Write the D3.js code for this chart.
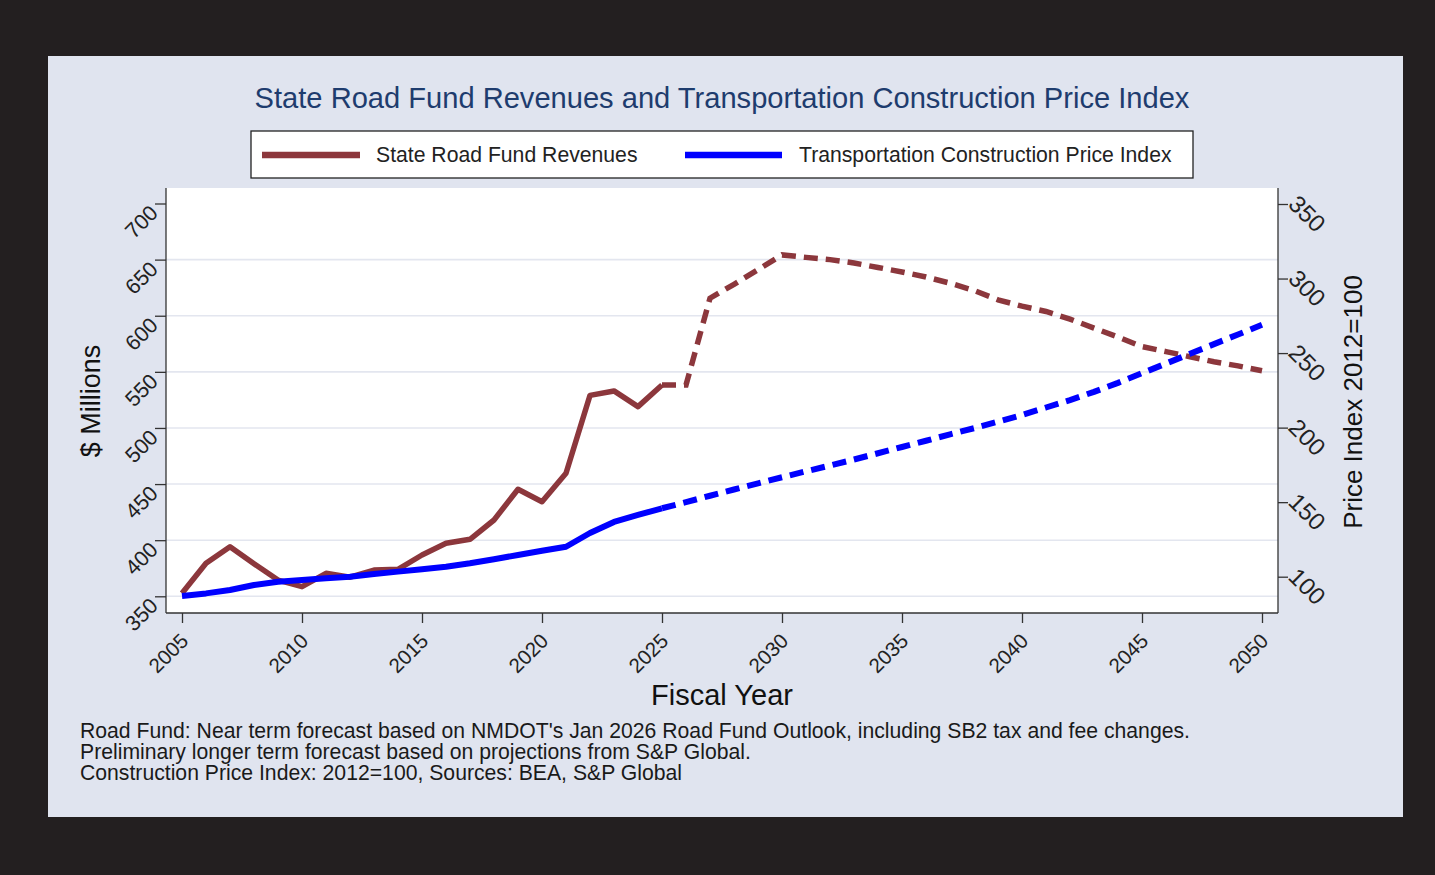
<!DOCTYPE html>
<html>
<head>
<meta charset="utf-8">
<title>State Road Fund Revenues and Transportation Construction Price Index</title>
<script src="https://cdnjs.cloudflare.com/ajax/libs/d3/7.8.5/d3.min.js"></script>
<style>
  html, body { margin: 0; padding: 0; background: #231f20; }
  svg { display: block; font-family: "Liberation Sans", Arial, Helvetica, sans-serif; }
  .axis path, .axis line { stroke: #333; stroke-width: 1.3; }
  .axis text { fill: #222; }
</style>
</head>
<body>
<div id="chart"></div>
<script>
// fiscal years
var years = [2005, 2006, 2007, 2008, 2009, 2010, 2011, 2012, 2013, 2014,
  2015, 2016, 2017, 2018, 2019, 2020, 2021, 2022, 2023, 2024,
  2025, 2026, 2027, 2028, 2029, 2030, 2031, 2032, 2033, 2034,
  2035, 2036, 2037, 2038, 2039, 2040, 2041, 2042, 2043, 2044,
  2045, 2046, 2047, 2048, 2049, 2050];

// state road fund revenues, $ millions (actual through 2025, forecast after)
var roadFund = [352.7, 379.4, 394.2, 379, 364.5, 358.6, 370.5, 367, 373.4, 374,
  386.8, 397.2, 400.8, 418, 445.4, 434.3, 459.6, 529, 533, 519,
  538.3, 538.3, 615.6, 628, 641, 654.2, 652, 650, 647, 643,
  639, 634.5, 629, 622.5, 614.2, 608.5, 603.8, 597, 589, 581,
  572.5, 568, 563.5, 559, 555.3, 551];

// transportation construction price index, 2012=100
var priceIndex = [87, 88.8, 91.1, 94.4, 96.6, 97.8, 98.9, 100, 101.8, 103.4,
  105, 106.7, 109, 111.7, 114.6, 117.4, 120.1, 129.3, 136.7, 141.4,
  145.9, 150, 154.3, 158.5, 162.6, 166.7, 170.7, 174.6, 178.6, 182.8,
  187, 191.2, 195.5, 199.6, 204, 208.5, 213.5, 218.5, 224, 230,
  236.5, 243, 249.5, 256, 262.5, 269];

var lastActual = 2025;

var xTicks = [2005, 2010, 2015, 2020, 2025, 2030, 2035, 2040, 2045, 2050];
var leftTicks = [350, 400, 450, 500, 550, 600, 650, 700];
var rightTicks = [100, 150, 200, 250, 300, 350];

var titleText = "State Road Fund Revenues and Transportation Construction Price Index";
var seriesNames = ["State Road Fund Revenues", "Transportation Construction Price Index"];
var notes = [
  "Road Fund: Near term forecast based on NMDOT's Jan 2026 Road Fund Outlook, including SB2 tax and fee changes.",
  "Preliminary longer term forecast based on projections from S&P Global.",
  "Construction Price Index: 2012=100, Sources: BEA, S&P Global"
];

var W = 1435, H = 875;
var red = "#8c373c", blue = "#0000ff";

// plot region
var plot = {left: 166, right: 1278, top: 188, bottom: 613};

var svg = d3.select("#chart").append("svg")
  .attr("width", W)
  .attr("height", H);

// outer dark frame + light panel
svg.append("rect").attr("width", W).attr("height", H).attr("fill", "#231f20");
svg.append("rect")
  .attr("x", 48).attr("y", 56)
  .attr("width", 1355).attr("height", 761)
  .attr("fill", "#e0e4ef");

svg.append("rect")
  .attr("x", plot.left).attr("y", plot.top)
  .attr("width", plot.right - plot.left).attr("height", plot.bottom - plot.top)
  .attr("fill", "#fff");

// scales
var x = d3.scaleLinear().domain([2005, 2050]).range([182, 1262]);
var yL = d3.scaleLinear().domain([350, 700]).range([596.3, 203.5]);
var yR = d3.scaleLinear().domain([100, 350]).range([576.7, 204]);

// gridlines (left axis, not at top tick)
svg.append("g").selectAll("line")
  .data(leftTicks.slice(0, -1))
  .enter().append("line")
    .attr("x1", plot.left).attr("x2", plot.right)
    .attr("y1", function(d) { return yL(d); })
    .attr("y2", function(d) { return yL(d); })
    .attr("stroke", "#e3e6ef")
    .attr("stroke-width", 1.6);

// axes
var gx = svg.append("g")
  .attr("class", "axis x")
  .attr("transform", "translate(0," + plot.bottom + ")")
  .call(d3.axisBottom(x).tickValues(xTicks).tickFormat(d3.format("d")).tickSize(10).tickSizeOuter(0));
gx.select(".domain").attr("d", "M" + plot.left + ",0H" + plot.right);
gx.selectAll("text")
  .attr("x", 0).attr("y", 0).attr("dy", "0.35em")
  .attr("font-size", 20.5)
  .attr("text-anchor", "end")
  .attr("transform", "translate(2,24) rotate(-45)");

var gl = svg.append("g")
  .attr("class", "axis yl")
  .attr("transform", "translate(" + plot.left + ",0)")
  .call(d3.axisLeft(yL).tickValues(leftTicks).tickSize(11).tickSizeOuter(0));
gl.select(".domain").attr("d", "M0," + plot.top + "V" + plot.bottom);
gl.selectAll("text")
  .attr("x", 0).attr("y", 0).attr("dy", "0.35em")
  .attr("font-size", 21.5)
  .attr("text-anchor", "end")
  .attr("transform", "translate(-12,5) rotate(-45)");

var gr = svg.append("g")
  .attr("class", "axis yr")
  .attr("transform", "translate(" + plot.right + ",0)")
  .call(d3.axisRight(yR).tickValues(rightTicks).tickSize(10).tickSizeOuter(0));
gr.select(".domain").attr("d", "M0," + plot.top + "V" + plot.bottom);
gr.selectAll("text")
  .attr("x", 0).attr("y", 0).attr("dy", "0.35em")
  .attr("font-size", 24)
  .attr("text-anchor", "start")
  .attr("transform", "translate(15,-5) rotate(45)");

// series lines: solid for actuals, dashed for forecast
function addSeries(values, yScale, color, width) {
  var pts = years.map(function(yr, i) { return {x: yr, y: values[i]}; });
  var line = d3.line()
    .x(function(d) { return x(d.x); })
    .y(function(d) { return yScale(d.y); });

  svg.append("path")
    .datum(pts.filter(function(d) { return d.x <= lastActual; }))
    .attr("fill", "none")
    .attr("stroke", color)
    .attr("stroke-width", width)
    .attr("stroke-linejoin", "round")
    .attr("d", line);

  svg.append("path")
    .datum(pts.filter(function(d) { return d.x >= lastActual; }))
    .attr("fill", "none")
    .attr("stroke", color)
    .attr("stroke-width", width)
    .attr("stroke-dasharray", "14,8")
    .attr("d", line);
}

addSeries(roadFund, yL, red, 5.5);
addSeries(priceIndex, yR, blue, 6);

// title
svg.append("text")
  .attr("x", 722).attr("y", 108)
  .attr("text-anchor", "middle")
  .attr("font-size", 29.1)
  .attr("fill", "#1e3c6e")
  .text(titleText);

// legend
var legend = svg.append("g");
legend.append("rect")
  .attr("x", 251).attr("y", 131)
  .attr("width", 942).attr("height", 47)
  .attr("fill", "#fff")
  .attr("stroke", "#222")
  .attr("stroke-width", 1.3);

var legendItems = [
  {name: seriesNames[0], color: red, x0: 262, x1: 360, tx: 376},
  {name: seriesNames[1], color: blue, x0: 685, x1: 782, tx: 799}
];
legendItems.forEach(function(d) {
  legend.append("line")
    .attr("x1", d.x0).attr("x2", d.x1)
    .attr("y1", 155).attr("y2", 155)
    .attr("stroke", d.color)
    .attr("stroke-width", 6.5);
  legend.append("text")
    .attr("x", d.tx).attr("y", 162)
    .attr("font-size", 21.2)
    .attr("fill", "#222")
    .text(d.name);
});

// axis titles
svg.append("text")
  .attr("transform", "translate(100,401) rotate(-90)")
  .attr("text-anchor", "middle")
  .attr("font-size", 27)
  .attr("fill", "#111")
  .text("$ Millions");

svg.append("text")
  .attr("transform", "translate(1362,402) rotate(-90)")
  .attr("text-anchor", "middle")
  .attr("font-size", 26)
  .attr("fill", "#111")
  .text("Price Index 2012=100");

svg.append("text")
  .attr("x", 722).attr("y", 705)
  .attr("text-anchor", "middle")
  .attr("font-size", 29)
  .attr("fill", "#111")
  .text("Fiscal Year");

// notes
svg.append("g").selectAll("text")
  .data(notes)
  .enter().append("text")
    .attr("x", 80)
    .attr("y", function(d, i) { return 738 + i * 21; })
    .attr("font-size", 21.2)
    .attr("fill", "#1a1a1a")
    .text(function(d) { return d; });
</script>
</body>
</html>
